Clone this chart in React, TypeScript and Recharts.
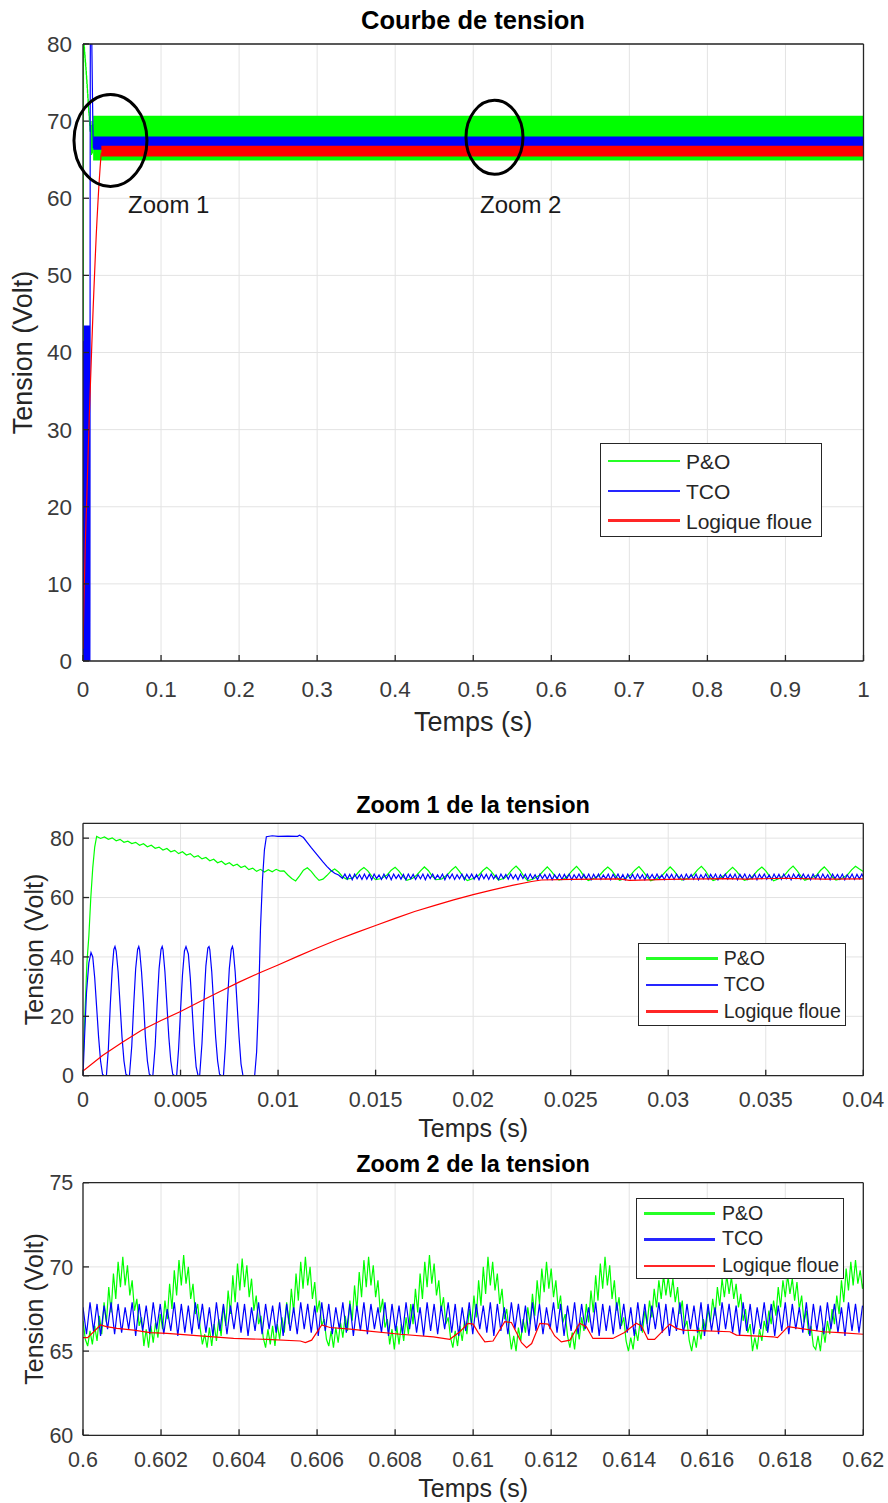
import React from "react";
import {
  ComposedChart,
  LineChart,
  Line,
  Area,
  XAxis,
  YAxis,
  CartesianGrid,
  ReferenceDot,
} from "recharts";

const GREEN = "#00ff00";
const BLUE = "#0000ff";
const RED = "#ff0000";
const INK = "#262626";
const TICK_INK = "#3a3a3a";
const GRID = "#e3e3e3";
const FONT = "'Liberation Sans', Arial, Helvetica, sans-serif";

const seriesNames = ["P&O", "TCO", "Logique floue"];
const seriesColors = [GREEN, BLUE, RED];

// ---- Courbe de tension (0 .. 1 s)
const mainTicksX = [0, 0.1, 0.2, 0.3, 0.4, 0.5, 0.6, 0.7, 0.8, 0.9, 1];
const mainTicksY = [0, 10, 20, 30, 40, 50, 60, 70, 80];
// steady-state ripple bands after start-up: P&O, TCO, Logique floue
const bandStart = [0.013, 0.0131, 0.0235];
const bandLow = [64.9, 66.3, 65.4];
const bandHigh = [70.7, 68.0, 66.8];
// where the start-up trace hands over to the band
const startupEnd = [0.0131, 0.0133, 0.024];
const zoom1Mark = { t: 0.0352, v: 67.5 };
const zoom2Mark = { t: 0.5272, v: 67.9 };
const zoom1Text = { t: 0.0577, v: 58.1 };
const zoom2Text = { t: 0.5087, v: 58.1 };

// ---- Zoom 1 (0 .. 0.04 s)
const zoom1TicksX = [0, 0.005, 0.01, 0.015, 0.02, 0.025, 0.03, 0.035, 0.04];
const zoom1TicksY = [0, 20, 40, 60, 80];

const zoom1Green: [number, number][] = [
  [0, 4], [0.0001, 21], [0.0002, 38], [0.0003, 47], [0.0004, 60], [0.0005, 70], [0.0006, 77],
  [0.0007, 80.6], [0.0009, 79.9], [0.0011, 80.4], [0.0013, 79.6], [0.0015, 80.1], [0.0017, 79.1],
  [0.0019, 79.6], [0.0021, 78.6], [0.0023, 79.0], [0.0025, 78.2], [0.0027, 78.6], [0.0029, 77.6],
  [0.0031, 78.1], [0.0033, 77.1], [0.0035, 77.6], [0.0037, 76.6], [0.0039, 77.0], [0.0041, 76.0],
  [0.0043, 76.5], [0.0045, 75.4], [0.0047, 75.9], [0.0049, 74.8], [0.0051, 75.4], [0.0053, 74.3],
  [0.0055, 74.8], [0.0057, 73.6], [0.0059, 74.1], [0.0061, 73.0], [0.0063, 73.5], [0.0065, 72.4],
  [0.0067, 72.9], [0.0069, 71.7], [0.0071, 72.2], [0.0073, 71.1], [0.0075, 71.7], [0.0077, 70.7],
  [0.0079, 71.2], [0.0081, 70.1], [0.0083, 70.6], [0.0085, 69.4], [0.0087, 69.9], [0.0089, 68.8],
  [0.0091, 69.5], [0.0093, 68.6], [0.0095, 69.4], [0.0097, 68.7], [0.0099, 69.5], [0.0101, 68.9],
  [0.0103, 69.0], [0.0105, 67.6], [0.0107, 66.4], [0.0109, 65.6], [0.0111, 67.3], [0.0113, 69.2],
  [0.0115, 70.0], [0.0117, 68.8], [0.0119, 67.1], [0.0121, 65.8], [0.0123, 66.2],
  [0.0125, 67.4], [0.0127, 68.8], [0.0129, 69.6], [0.0131, 68.6], [0.0133, 67.0], [0.0135, 66.2], [0.0138, 66.5],
  [0.014, 67.6], [0.0142, 69.1], [0.0144, 70.1], [0.0146, 69.0], [0.0148, 67.2], [0.015, 66.0], [0.0153, 66.4],
  [0.0156, 67.7], [0.0158, 69.2], [0.016, 70.2], [0.0162, 68.9], [0.0164, 67.1], [0.0166, 65.8], [0.0169, 66.5],
  [0.0171, 67.5], [0.0173, 69.0], [0.0175, 70.3], [0.0177, 69.1], [0.0179, 67.2], [0.0181, 66.0], [0.0184, 66.3],
  [0.0187, 67.8], [0.0189, 69.3], [0.0191, 70.4], [0.0193, 68.8], [0.0195, 67.0], [0.0197, 65.7], [0.02, 66.4],
  [0.0203, 67.6], [0.0205, 69.1], [0.0207, 70.2], [0.0209, 69.0], [0.0211, 67.3], [0.0213, 65.9], [0.0216, 66.5],
  [0.0218, 67.8], [0.022, 69.4], [0.0222, 70.6], [0.0224, 69.2], [0.0226, 67.1], [0.0228, 65.6], [0.0231, 66.3],
  [0.0234, 67.5], [0.0236, 69.0], [0.0238, 70.3], [0.024, 68.9], [0.0242, 67.2], [0.0244, 65.9], [0.0247, 66.4],
  [0.0249, 67.7], [0.0251, 69.2], [0.0253, 70.5], [0.0255, 69.0], [0.0257, 67.0], [0.0259, 65.7], [0.0262, 66.5],
  [0.0265, 67.6], [0.0267, 69.1], [0.0269, 70.3], [0.0271, 69.1], [0.0273, 67.3], [0.0275, 65.8], [0.0278, 66.4],
  [0.0281, 67.8], [0.0283, 69.3], [0.0285, 70.4], [0.0287, 68.9], [0.0289, 67.1], [0.0291, 65.6], [0.0294, 66.3],
  [0.0297, 67.5], [0.0299, 69.0], [0.0301, 70.3], [0.0303, 69.0], [0.0305, 67.2], [0.0307, 65.9], [0.031, 66.5],
  [0.0313, 67.7], [0.0315, 69.3], [0.0317, 70.5], [0.0319, 69.1], [0.0321, 67.0], [0.0323, 65.7], [0.0326, 66.4],
  [0.0329, 67.6], [0.0331, 69.0], [0.0333, 70.2], [0.0335, 68.9], [0.0337, 67.2], [0.0339, 65.8], [0.0342, 66.3],
  [0.0344, 67.7], [0.0346, 69.2], [0.0348, 70.3], [0.035, 69.0], [0.0352, 67.1], [0.0354, 65.6], [0.0357, 66.4],
  [0.036, 67.8], [0.0362, 69.4], [0.0364, 70.6], [0.0366, 69.1], [0.0368, 67.2], [0.037, 65.8], [0.0373, 66.5],
  [0.0376, 67.5], [0.0378, 69.1], [0.038, 70.3], [0.0382, 68.9], [0.0384, 67.0], [0.0386, 65.9], [0.0389, 66.4],
  [0.0392, 67.7], [0.0394, 69.3], [0.0396, 70.5], [0.0398, 69.6], [0.04, 68.8],
];

const zoom1BlueStart: [number, number][] = [
  [0, 0], [0.00008, 13], [0.00018, 28], [0.0003, 38], [0.00041, 41.5], [0.0005, 40], [0.0006, 33],
  [0.0007, 23], [0.0008, 13], [0.0009, 5], [0.001, 0.5], [0.00108, 0],
  [0.0012, 0], [0.0013, 9], [0.0014, 24], [0.0015, 36], [0.00158, 42.5], [0.00164, 43.5], [0.0017, 42],
  [0.0018, 35], [0.0019, 24], [0.002, 13], [0.0021, 5], [0.0022, 0.5], [0.0023, 0],
  [0.00238, 0], [0.0025, 10], [0.0026, 24], [0.0027, 36], [0.0028, 42.5], [0.00286, 43.5], [0.0029, 42.5],
  [0.003, 35], [0.0031, 25], [0.0032, 13], [0.0033, 5], [0.0034, 0.5], [0.0035, 0],
  [0.00358, 0], [0.0037, 10], [0.0038, 24], [0.0039, 36], [0.004, 42.5], [0.00406, 43.5], [0.0041, 42.5],
  [0.0042, 35], [0.0043, 24], [0.0044, 13], [0.0045, 5], [0.0046, 0.5], [0.0047, 0],
  [0.0048, 0], [0.0049, 9], [0.005, 22], [0.0051, 34], [0.0052, 42], [0.00528, 43.5], [0.0054, 41],
  [0.0055, 33], [0.0056, 22], [0.0057, 11], [0.0058, 3], [0.0059, 0],
  [0.00598, 0], [0.0061, 11], [0.0062, 25], [0.0063, 37], [0.0064, 43], [0.00646, 43.5], [0.0065, 42.5],
  [0.0066, 35], [0.0067, 24], [0.0068, 13], [0.0069, 5], [0.007, 0.5], [0.0071, 0],
  [0.0072, 0], [0.0073, 10], [0.0074, 24], [0.0075, 36], [0.0076, 42.5], [0.00766, 43.5], [0.0077, 42.5],
  [0.0078, 35], [0.0079, 24], [0.008, 13], [0.0081, 4], [0.0082, 0],
  [0.0088, 0], [0.0089, 8], [0.009, 25], [0.0091, 50], [0.0092, 66], [0.0093, 76], [0.0094, 80.5],
  [0.0097, 80.8], [0.01, 80.6], [0.0105, 80.7], [0.011, 80.6], [0.0111, 81], [0.0113, 80.2],
  [0.0115, 78.5], [0.0117, 76.8], [0.0119, 75.2], [0.0121, 73.6], [0.0123, 72], [0.0125, 70.5],
  [0.0127, 69.2], [0.0129, 68.2], [0.0131, 67.6],
];

// TCO ripple after settling, one sample every 0.125 ms from 13.3 ms
const zoom1BlueRippleStart = 0.0133;
const zoom1BlueRippleStep = 0.000125;
const zoom1BlueRipple = [
  66.5, 67.9, 66.2, 67.8, 66.0, 67.9, 66.3, 67.7, 66.1, 67.9,
  66.2, 67.8, 66.0, 67.9, 66.4, 67.6, 66.1, 67.9, 66.3, 67.8,
  66.0, 67.9, 66.4, 67.7, 66.2, 67.8, 66.0, 67.9, 66.3, 67.8,
  66.1, 67.7, 66.3, 67.9, 66.0, 67.8, 66.4, 67.9, 66.2, 67.6,
  66.3, 67.9, 66.0, 67.8, 66.4, 67.9, 66.1, 67.7, 66.3, 67.9,
  66.0, 67.8, 66.4, 67.9, 66.2, 67.7, 66.0, 67.9, 66.3, 67.8,
  66.1, 67.9, 66.3, 67.6, 66.0, 67.9, 66.4, 67.8, 66.2, 67.9,
  66.3, 67.7, 66.0, 67.9, 66.4, 67.8, 66.1, 67.9, 66.3, 67.7,
  66.0, 67.9, 66.4, 67.8, 66.2, 67.9, 66.0, 67.7, 66.3, 67.9,
  66.1, 67.8, 66.3, 67.9, 66.0, 67.7, 66.4, 67.9, 66.2, 67.8,
  66.3, 67.9, 66.0, 67.8, 66.4, 67.9, 66.1, 67.6, 66.3, 67.9,
  66.0, 67.8, 66.4, 67.9, 66.2, 67.7, 66.0, 67.9, 66.3, 67.8,
  66.1, 67.9, 66.3, 67.7, 66.0, 67.9, 66.4, 67.8, 66.2, 67.9,
  66.3, 67.6, 66.0, 67.9, 66.4, 67.8, 66.1, 67.9, 66.3, 67.7,
  66.0, 67.9, 66.4, 67.8, 66.2, 67.9, 66.0, 67.7, 66.3, 67.9,
  66.1, 67.8, 66.3, 67.9, 66.0, 67.7, 66.4, 67.9, 66.2, 67.8,
  66.3, 67.9, 66.0, 67.8, 66.4, 67.9, 66.1, 67.7, 66.3, 67.9,
  66.0, 67.8, 66.4, 67.9, 66.2, 67.6, 66.0, 67.9, 66.3, 67.8,
  66.1, 67.9, 66.3, 67.7, 66.0, 67.9, 66.4, 67.8, 66.2, 67.9,
  66.3, 67.7, 66.0, 67.9, 66.4, 67.8, 66.1, 67.9, 66.3, 67.7,
  66.0, 67.9, 66.4, 67.8, 66.2, 67.9, 66.0, 67.7, 66.3, 67.9,
  66.1, 67.8, 66.3, 67.9, 66.2,
];

const zoom1Red: [number, number][] = [
  [0, 1.6], [0.001, 6.8], [0.002, 11.2], [0.003, 15.3], [0.004, 18.6], [0.005, 21.6], [0.006, 25],
  [0.007, 28.3], [0.008, 31.5], [0.009, 34.5], [0.01, 37.3], [0.011, 40.2], [0.012, 43], [0.013, 45.7],
  [0.014, 48.2], [0.015, 50.6], [0.016, 53], [0.017, 55.3], [0.018, 57.3], [0.019, 59.2], [0.02, 61],
  [0.021, 62.6], [0.022, 64.1], [0.023, 65.4], [0.0235, 65.9], [0.025, 66.1], [0.0275, 66.3],
  [0.028, 65.8], [0.03, 66.1], [0.033, 66.4], [0.034, 66.2], [0.036, 66.5], [0.038, 66.2], [0.04, 66.3],
];

// ---- Zoom 2 (0.6 .. 0.62 s)
const zoom2TicksX = [0.6, 0.602, 0.604, 0.606, 0.608, 0.61, 0.612, 0.614, 0.616, 0.618, 0.62];
const zoom2TicksY = [60, 65, 70, 75];
const zoom2Start = 0.6;

// P&O, one sample every 0.06 ms (one line per burst)
const zoom2GreenStep = 0.00006;
const zoom2Green = [
  66.8, 65.7, 65.3, 66.2, 65.4, 66.5, 65.6, 67.1, 66.0, 67.9, 66.7, 68.8, 67.3, 69.6, 68.1, 70.3, 68.8, 70.6, 68.9, 70.1, 68.3, 69.2, 67.4, 68.1, 66.5, 67.0,
  65.3, 66.3, 65.2, 66.5, 65.5, 66.7, 65.8, 67.2, 66.3, 68.0, 66.9, 69.0, 67.5, 69.8, 68.3, 70.4, 68.9, 70.7, 69.0, 70.0, 68.1, 69.0, 67.2, 67.8, 66.4,
  65.4, 66.0, 65.2, 66.4, 65.3, 66.6, 65.6, 66.9, 65.9, 67.7, 66.5, 68.6, 67.2, 69.5, 67.9, 70.2, 68.6, 70.5, 68.8, 70.1, 68.2, 69.3, 67.4, 68.3, 66.6, 67.1, 65.8,
  65.2, 66.3, 65.4, 66.5, 65.3, 66.6, 65.7, 67.0, 66.1, 67.9, 66.6, 68.7, 67.3, 69.6, 68.0, 70.3, 68.7, 70.6, 68.9, 70.0, 68.1, 69.1, 67.3, 68.0, 66.5, 66.9, 65.7,
  65.3, 66.2, 65.2, 66.4, 65.5, 66.7, 65.8, 67.1, 66.2, 68.0, 66.8, 68.9, 67.4, 69.7, 68.2, 70.4, 68.8, 70.6, 68.9, 70.1, 68.2, 69.2, 67.3, 68.1, 66.4, 66.9,
  65.4, 66.3, 65.1, 66.5, 65.4, 66.6, 65.6, 67.0, 66.0, 67.8, 66.6, 68.7, 67.3, 69.6, 68.1, 70.3, 68.8, 70.7, 69.0, 70.2, 68.3, 69.2, 67.4, 68.2, 66.6, 67.0, 65.8,
  65.2, 66.2, 65.3, 66.5, 65.6, 66.8, 66.0, 67.5, 66.5, 68.3, 67.0, 69.2, 67.7, 70.0, 68.4, 70.6, 68.9, 70.3, 68.6, 69.6, 67.8, 68.7, 66.9, 67.5, 66.2,
  65.1, 65.9, 65.0, 66.4, 65.6, 66.9, 66.1, 67.6, 66.6, 68.4, 67.1, 69.2, 67.8, 69.9, 68.5, 70.3, 68.7, 69.9, 68.2, 69.2, 67.5, 68.3, 66.7, 67.2, 65.9,
  65.2, 66.1, 65.1, 66.5, 65.7, 67.0, 66.2, 67.8, 66.7, 68.6, 67.3, 69.5, 68.0, 70.2, 68.7, 70.6, 68.9, 70.1, 68.1, 69.2, 67.4, 68.2, 66.5, 67.0, 65.6,
  65.0, 65.8, 65.1, 66.3, 65.6, 66.8, 66.1, 67.4, 66.6, 68.0, 67.0, 68.7, 67.6, 69.2, 68.1, 69.5, 68.3, 69.4, 68.2, 69.3, 67.9, 68.8, 67.2, 68.0, 66.4, 66.8, 65.6,
  65.0, 65.9, 65.2, 66.4, 65.7, 66.9, 66.2, 67.5, 66.7, 68.1, 67.1, 68.8, 67.7, 69.3, 68.2, 69.5, 68.4, 69.4, 68.1, 69.0, 67.6, 68.4, 66.8, 67.5, 66.1, 66.6,
  65.0, 65.8, 65.1, 66.3, 65.6, 66.8, 66.2, 67.4, 66.6, 68.0, 67.1, 68.8, 67.6, 69.2, 68.2, 69.5, 68.4, 69.3, 68.0, 69.1, 67.5, 68.3, 66.7, 67.4, 66.0, 66.5, 65.3,
  65.1, 65.9, 65.0, 66.4, 65.5, 66.8, 66.0, 67.5, 66.6, 68.3, 67.2, 69.2, 67.9, 69.9, 68.6, 70.3, 68.9, 70.4, 69.0, 69.8, 68.7, 69.5,
];

// TCO, one sample every 0.09 ms
const zoom2BlueStep = 0.00009;
const zoom2Blue = [
  67.6, 66.0, 67.9, 66.2, 67.8, 65.9, 67.7, 66.3, 67.9, 66.0,
  67.8, 66.1, 67.6, 66.3, 67.9, 65.9, 67.8, 66.2, 67.7, 66.0,
  67.9, 66.3, 67.8, 66.0, 67.5, 66.2, 67.9, 65.9, 67.8, 66.1,
  67.7, 66.0, 67.9, 66.3, 67.8, 66.1, 67.6, 65.9, 67.9, 66.2,
  67.8, 66.0, 67.7, 66.3, 67.9, 66.1, 67.8, 65.9, 67.6, 66.2,
  67.9, 66.0, 67.8, 66.3, 67.7, 66.1, 67.9, 65.9, 67.8, 66.2,
  67.6, 66.0, 67.9, 66.3, 67.8, 66.1, 67.7, 65.9, 67.9, 66.2,
  67.8, 66.0, 67.6, 66.3, 67.9, 66.1, 67.8, 65.9, 67.7, 66.2,
  67.9, 66.0, 67.8, 66.3, 67.6, 66.1, 67.9, 65.9, 67.8, 66.2,
  67.7, 66.0, 67.9, 66.3, 67.8, 66.1, 67.6, 65.9, 67.9, 66.2,
  67.8, 66.0, 67.7, 66.3, 67.9, 66.1, 67.8, 65.9, 67.6, 66.2,
  67.9, 66.0, 67.8, 66.3, 67.7, 66.1, 67.9, 65.9, 67.8, 66.2,
  67.6, 66.0, 67.9, 66.3, 67.8, 66.1, 67.7, 65.9, 67.9, 66.2,
  67.8, 66.0, 67.6, 66.3, 67.9, 66.1, 67.8, 65.9, 67.7, 66.2,
  67.9, 66.0, 67.8, 66.3, 67.6, 66.1, 67.9, 65.9, 67.8, 66.2,
  67.7, 66.0, 67.9, 66.3, 67.8, 66.1, 67.6, 65.9, 67.9, 66.2,
  67.8, 66.0, 67.7, 66.3, 67.9, 66.1, 67.8, 65.9, 67.6, 66.2,
  67.9, 66.0, 67.8, 66.3, 67.7, 66.1, 67.9, 65.9, 67.8, 66.2,
  67.6, 66.0, 67.9, 66.3, 67.8, 66.1, 67.7, 65.9, 67.9, 66.2,
  67.8, 66.0, 67.6, 66.3, 67.9, 66.1, 67.8, 65.9, 67.7, 66.2,
  67.9, 66.0, 67.8, 66.3, 67.6, 66.1, 67.9, 65.9, 67.8, 66.2,
  67.7, 66.0, 67.9, 66.3, 67.8, 66.1, 67.6, 65.9, 67.9, 66.2,
  67.8, 66.1, 67.7,
];

const zoom2Red: [number, number][] = [
  [0.6, 65.8], [0.60012, 65.8], [0.60045, 66.55], [0.6006, 66.45], [0.60087, 66.35], [0.6013, 66.25],
  [0.60172, 66.1], [0.60215, 66.05], [0.603, 65.9], [0.60386, 65.75], [0.60471, 65.7], [0.60557, 65.6],
  [0.6057, 65.5], [0.60586, 65.65], [0.60612, 66.55], [0.60633, 66.4], [0.60685, 66.3], [0.60727, 66.2],
  [0.60813, 66.0], [0.60898, 65.85], [0.6094, 65.7], [0.60966, 66.15], [0.60987, 66.65], [0.61, 66.6],
  [0.61013, 66.1], [0.6103, 65.55], [0.61051, 65.6], [0.61081, 66.75], [0.61098, 66.7], [0.61124, 65.5],
  [0.61137, 65.2], [0.6115, 65.45], [0.61171, 66.65], [0.61192, 66.6], [0.61209, 65.9], [0.61226, 65.55],
  [0.61248, 65.65], [0.61273, 66.65], [0.6129, 66.45], [0.61307, 65.75], [0.61358, 65.75], [0.61388, 66.1],
  [0.61418, 66.65], [0.61431, 66.5], [0.61448, 65.7], [0.61465, 65.7], [0.61482, 66.1], [0.61504, 66.6],
  [0.61521, 66.35], [0.61538, 66.25], [0.61598, 66.2], [0.61658, 66.15], [0.61675, 65.95], [0.61769, 65.85],
  [0.6178, 65.8], [0.61807, 66.45], [0.61837, 66.35], [0.61897, 66.15], [0.6194, 66.1], [0.62, 66.0],
];

const toPoints = (list: [number, number][]) => list.map(([t, v]) => ({ t, v }));
const sampled = (start: number, step: number, values: number[]) =>
  values.map((v, i) => ({ t: start + i * step, v }));
const bandPoints = (i: number) => [
  { t: bandStart[i], v: [bandLow[i], bandHigh[i]] },
  { t: 1, v: [bandLow[i], bandHigh[i]] },
];

const zoom1BluePairs: [number, number][] = [
  ...zoom1BlueStart,
  ...sampled(zoom1BlueRippleStart, zoom1BlueRippleStep, zoom1BlueRipple).map((p) => [p.t, p.v] as [number, number]),
];
const zoom1Series = [zoom1Green, zoom1BluePairs, zoom1Red];

function XTitle(props: any) {
  const { viewBox, text, dy, size } = props;
  return (
    <text x={viewBox.x + viewBox.width / 2} y={viewBox.y + dy} textAnchor="middle" fontSize={size} fill={INK} fontFamily={FONT}>
      {text}
    </text>
  );
}

function YTitle(props: any) {
  const { viewBox, text, cx, size } = props;
  const cy = viewBox.y + viewBox.height / 2;
  return (
    <text x={cx} y={cy} transform={`rotate(-90 ${cx} ${cy})`} textAnchor="middle" dominantBaseline="central" fontSize={size} fill={INK} fontFamily={FONT}>
      {text}
    </text>
  );
}

type FrameCfg = {
  domainX: [number, number];
  domainY: [number, number];
  ticksX: number[];
  ticksY: number[];
  tickFont: number;
  xMargin: number;
  yMargin: number;
  titleFont: number;
  xTitleDy: number;
  yTitleX: number;
};

function frame(c: FrameCfg) {
  const tickStyle = { fill: TICK_INK, fontSize: c.tickFont, fontFamily: FONT };
  return [
    <CartesianGrid key="grid" stroke={GRID} strokeWidth={1} />,
    <XAxis key="xb" dataKey="t" type="number" domain={c.domainX} ticks={c.ticksX} interval={0} allowDataOverflow
      tickSize={-6} tickMargin={c.xMargin} tick={tickStyle} stroke={INK} strokeWidth={1.3} height={60}
      label={<XTitle text="Temps (s)" dy={c.xTitleDy} size={c.titleFont} />} />,
    <XAxis key="xt" xAxisId="top" orientation="top" dataKey="t" type="number" domain={c.domainX} ticks={c.ticksX}
      interval={0} allowDataOverflow tickSize={-6} tick={false} stroke={INK} strokeWidth={1.3} height={1} />,
    <YAxis key="yl" type="number" domain={c.domainY} ticks={c.ticksY} interval={0} allowDataOverflow
      tickSize={-6} tickMargin={c.yMargin} tick={tickStyle} stroke={INK} strokeWidth={1.3} width={83}
      label={<YTitle text="Tension (Volt)" cx={c.yTitleX} size={c.titleFont} />} />,
    <YAxis key="yr" yAxisId="right" orientation="right" type="number" domain={c.domainY} ticks={c.ticksY}
      interval={0} allowDataOverflow tickSize={-6} tick={false} stroke={INK} strokeWidth={1.3} width={1} />,
  ];
}

function LegendBox({ left, top, width, height, rows, lineX, lineW, textX, size }: any) {
  return (
    <div style={{ position: "absolute", left, top, width, height, border: `1.3px solid ${INK}`, background: "#fff", boxSizing: "border-box" }}>
      {seriesNames.map((name, i) => (
        <div key={name}>
          <div style={{ position: "absolute", left: lineX, top: rows[i] - 1.2, width: lineW, height: 2.5, background: seriesColors[i], opacity: 0.85 }} />
          <div style={{ position: "absolute", left: textX, top: rows[i], transform: "translateY(-50%)", fontSize: size, lineHeight: 1, color: INK, whiteSpace: "nowrap" }}>
            {name}
          </div>
        </div>
      ))}
    </div>
  );
}

function Title({ text, top, size }: { text: string; top: number; size: number }) {
  return (
    <div style={{ position: "absolute", left: 83, width: 780, top, transform: "translateY(-50%)", textAlign: "center", fontWeight: 700, fontSize: size, lineHeight: 1, color: "#000" }}>
      {text}
    </div>
  );
}

const ellipse = (rx: number, ry: number) => (p: any) =>
  <ellipse cx={p.cx} cy={p.cy} rx={rx} ry={ry} fill="none" stroke="#000" strokeWidth={3} />;
const note = (text: string) => (p: any) =>
  <text x={p.cx} y={p.cy} fontSize={24} fill="#1a1a1a" fontFamily={FONT}>{text}</text>;

export default function App() {
  return (
    <div style={{ position: "absolute", left: 0, top: 0, width: 888, height: 1503, background: "#fff", fontFamily: FONT }}>
      <Title text="Courbe de tension" top={21} size={25.5} />
      <div style={{ position: "absolute", left: 0, top: 0 }}>
        <ComposedChart width={888} height={750} margin={{ top: 43, right: 23.5, bottom: 29, left: 0 }} style={{ fontFamily: FONT }}>
          {frame({ domainX: [0, 1], domainY: [0, 80], ticksX: mainTicksX, ticksY: mainTicksY, tickFont: 22.5, xMargin: 26, yMargin: 17, titleFont: 27, xTitleDy: 70, yTitleX: 23 })}
          {zoom1Series.map((s, i) => (
            <Line key={`s${i}`} data={toPoints(s.filter(([t]) => t <= startupEnd[i]))} dataKey="v" type="linear"
              stroke={seriesColors[i]} strokeWidth={1.2} dot={false} isAnimationActive={false} />
          ))}
          {seriesNames.map((name, i) => (
            <Area key={`b${i}`} data={bandPoints(i)} dataKey="v" type="linear" stroke="none"
              fill={seriesColors[i]} fillOpacity={1} isAnimationActive={false} />
          ))}
          <ReferenceDot x={zoom1Mark.t} y={zoom1Mark.v} r={1} shape={ellipse(36.5, 46)} />
          <ReferenceDot x={zoom2Mark.t} y={zoom2Mark.v} r={1} shape={ellipse(28.5, 37)} />
          <ReferenceDot x={zoom1Text.t} y={zoom1Text.v} r={1} shape={note("Zoom 1")} />
          <ReferenceDot x={zoom2Text.t} y={zoom2Text.v} r={1} shape={note("Zoom 2")} />
        </ComposedChart>
      </div>
      <LegendBox left={600} top={443} width={222} height={94} rows={[17, 47, 76.5]} lineX={6.5} lineW={72} textX={85} size={21} />

      <Title text="Zoom 1 de la tension" top={805.5} size={23.5} />
      <div style={{ position: "absolute", left: 0, top: 780 }}>
        <LineChart width={888} height={380} margin={{ top: 42.3, right: 23.7, bottom: 24.3, left: 0 }} style={{ fontFamily: FONT }}>
          {frame({ domainX: [0, 0.04], domainY: [0, 85], ticksX: zoom1TicksX, ticksY: zoom1TicksY, tickFont: 21.5, xMargin: 22, yMargin: 15, titleFont: 25, xTitleDy: 61.3, yTitleX: 33.5 })}
          {zoom1Series.map((s, i) => (
            <Line key={`z${i}`} data={toPoints(s)} dataKey="v" type="linear" stroke={seriesColors[i]}
              strokeWidth={1.2} dot={false} isAnimationActive={false} />
          ))}
        </LineChart>
      </div>
      <LegendBox left={638} top={942.7} width={207.7} height={83} rows={[15, 41.3, 68]} lineX={7} lineW={71.7} textX={84.7} size={19.5} />

      <Title text="Zoom 2 de la tension" top={1164.7} size={23.5} />
      <div style={{ position: "absolute", left: 0, top: 1140 }}>
        <LineChart width={888} height={363} margin={{ top: 41.7, right: 23.7, bottom: 7.7, left: 0 }} style={{ fontFamily: FONT }}>
          {frame({ domainX: [0.6, 0.62], domainY: [60, 75], ticksX: zoom2TicksX, ticksY: zoom2TicksY, tickFont: 21.5, xMargin: 22, yMargin: 15.7, titleFont: 25, xTitleDy: 61.7, yTitleX: 33.5 })}
          <Line data={sampled(zoom2Start, zoom2GreenStep, zoom2Green)} dataKey="v" type="linear" stroke={GREEN}
            strokeWidth={1.2} dot={false} isAnimationActive={false} />
          <Line data={sampled(zoom2Start, zoom2BlueStep, zoom2Blue)} dataKey="v" type="linear" stroke={BLUE}
            strokeWidth={1.2} dot={false} isAnimationActive={false} />
          <Line data={toPoints(zoom2Red)} dataKey="v" type="linear" stroke={RED}
            strokeWidth={1.2} dot={false} isAnimationActive={false} />
        </LineChart>
      </div>
      <LegendBox left={636} top={1197.7} width={208} height={81.6} rows={[15, 40.6, 67.3]} lineX={7.3} lineW={70.7} textX={85} size={19.5} />
    </div>
  );
}
